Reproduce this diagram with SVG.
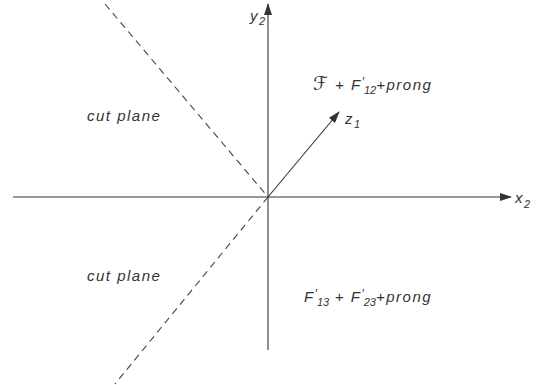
<svg xmlns="http://www.w3.org/2000/svg" width="548" height="385" viewBox="0 0 548 385">
<style>
.ax{stroke:#333;stroke-width:1.1;fill:none}
.ds{stroke:#444;stroke-width:1.1;fill:none;stroke-dasharray:7,5}
.t{font-family:"Liberation Sans","DejaVu Sans",sans-serif;font-style:italic;font-size:15px;fill:#333;letter-spacing:1.5px}
.s{font-size:11px;letter-spacing:0}
.p{font-size:12px;letter-spacing:0}
</style>
<defs>
<marker id="ah" markerWidth="12" markerHeight="8" refX="11" refY="4" orient="auto" markerUnits="userSpaceOnUse">
<path d="M0,0 L12,4 L0,8 Z" fill="#333"/>
</marker>
</defs>
<rect width="548" height="385" fill="#fff"/>
<g id="connectors">
<line class="ax" x1="13" y1="197" x2="511" y2="197" marker-end="url(#ah)"/>
<line class="ax" x1="268" y1="350" x2="268" y2="4" marker-end="url(#ah)"/>
<line class="ds" x1="105" y1="4" x2="268" y2="197"/>
<line class="ds" x1="268" y1="197" x2="115" y2="384"/>
<line class="ax" x1="268" y1="197" x2="339" y2="112" stroke-width="1.4" marker-end="url(#ah)"/>
</g>
<g id="label-y2"><text class="t" x="250" y="21">y<tspan class="s" dy="4">2</tspan></text></g>
<g id="label-x2"><text class="t" x="515" y="203">x<tspan class="s" dy="5">2</tspan></text></g>
<g id="label-z1"><text class="t" x="345" y="124">z<tspan class="s" dy="4">1</tspan></text></g>
<g id="upper-region"><text class="t" x="313" y="90"><tspan font-size="19">ℱ</tspan> + F<tspan class="p" dy="-4">′</tspan><tspan class="s" dy="8">12</tspan><tspan dy="-4">+prong</tspan></text></g>
<g id="lower-region"><text class="t" x="304" y="302">F<tspan class="p" dy="-4">′</tspan><tspan class="s" dy="8">13</tspan><tspan dy="-4"> + F</tspan><tspan class="p" dy="-4">′</tspan><tspan class="s" dy="8">23</tspan><tspan dy="-4">+prong</tspan></text></g>
<g id="cut-plane-upper"><text class="t" x="87" y="121">cut plane</text></g>
<g id="cut-plane-lower"><text class="t" x="87" y="281">cut plane</text></g>
</svg>
